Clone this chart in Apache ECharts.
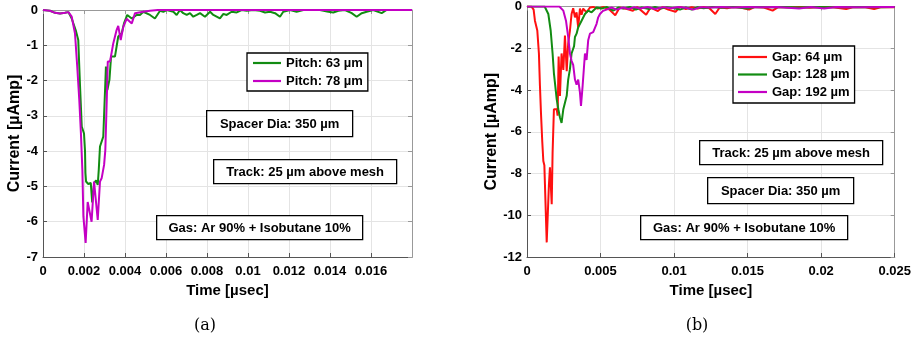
<!DOCTYPE html>
<html><head><meta charset="utf-8">
<script src="https://cdn.jsdelivr.net/npm/echarts@6/dist/echarts.min.js"></script>
<style>html,body{margin:0;padding:0;background:#fff}#c{width:914px;height:345px}</style>
</head><body><div id="c"></div>
<script>
// ---- data (time in µsec, current in µAmp) ----
const leftXTicks = [0, 0.002, 0.004, 0.006, 0.008, 0.01, 0.012, 0.014, 0.016];
const rightXTicks = [0, 0.005, 0.01, 0.015, 0.02, 0.025];
const leftNames = ['Pitch: 63 µm', 'Pitch: 78 µm'];
const rightNames = ['Gap: 64 µm', 'Gap: 128 µm', 'Gap: 192 µm'];

const pitch63 = [
 [0,0],[0.00034,-0.02],[0.00059,-0.08],[0.00083,-0.1],[0.00107,-0.08],[0.00124,-0.06],[0.0014,-0.24],
 [0.00161,-0.6],[0.00172,-0.85],[0.0018,-2.07],[0.00189,-3.3],[0.002,-3.5],[0.00205,-4.0],[0.00207,-4.62],
 [0.0021,-4.86],[0.00221,-4.93],[0.00233,-4.9],[0.0024,-5.45],[0.0025,-4.9],[0.00259,-4.83],[0.00267,-4.96],
 [0.00272,-4.53],[0.00278,-3.87],[0.00294,-3.59],[0.00304,-2.07],[0.00307,-1.6],[0.00314,-2.27],[0.00324,-1.98],
 [0.00332,-1.32],[0.00351,-1.32],[0.00367,-0.75],[0.00384,-0.66],[0.00395,-0.38],[0.00411,-0.14],[0.00433,-0.24],
 [0.00457,-0.14],[0.00473,-0.14],[0.00489,-0.05],[0.00522,-0.14],[0.00546,-0.24],[0.00571,-0.02],
 [0.00587,-0.05],[0.00603,0],[0.00636,-0.05],[0.00652,-0.14],[0.00668,0],[0.00684,-0.09],[0.00701,-0.14],
 [0.00717,-0.09],[0.00733,-0.19],[0.0075,-0.14],[0.00766,-0.09],[0.0079,-0.19],[0.00815,-0.05],[0.00831,-0.14],
 [0.00863,-0.24],[0.0088,-0.11],[0.00896,-0.14],[0.0092,-0.05],[0.00945,-0.07],[0.00969,0],[0.00994,-0.02],
 [0.01026,0],[0.01059,-0.02],[0.01083,-0.07],[0.01107,-0.05],[0.01132,-0.09],[0.01156,-0.19],[0.01172,-0.05],
 [0.01205,0],[0.01237,-0.05],[0.0127,0],[0.01311,0],[0.01351,0],[0.01392,-0.05],[0.01416,-0.07],[0.01441,-0.02],
 [0.01473,0],[0.01506,-0.09],[0.0153,-0.19],[0.01555,-0.09],[0.01579,-0.05],[0.01611,0],[0.01652,-0.09],
 [0.01676,0],[0.018,0]
];
const pitch78 = [
 [0,0],[0.00034,-0.02],[0.00059,-0.08],[0.00083,-0.1],[0.00107,-0.08],[0.00124,-0.06],[0.00132,-0.1],
 [0.0014,-0.19],[0.00156,-0.66],[0.00167,-1.6],[0.00177,-2.55],[0.00185,-3.5],[0.00192,-4.53],[0.00197,-5.85],
 [0.00208,-6.6],[0.00218,-5.44],[0.00237,-6.0],[0.00249,-4.86],[0.00267,-5.95],[0.00278,-4.86],[0.00286,-4.77],
 [0.00298,-4.39],[0.00304,-3.97],[0.00311,-2.55],[0.00316,-1.46],[0.00327,-1.46],[0.00343,-0.94],[0.00359,-0.57],
 [0.00367,-0.45],[0.00379,-0.85],[0.00392,-0.47],[0.00408,-0.25],[0.00433,-0.38],[0.00449,-0.09],[0.00489,-0.05],
 [0.00522,-0.02],[0.0056,0],[0.018,0]
];
const gap64 = [
 [0,0],[0.0003,0],[0.00045,-0.15],[0.00054,-0.68],[0.0007,-1.15],[0.00081,-2.25],[0.00088,-3.8],[0.00095,-5.1],
 [0.00104,-6.5],[0.00111,-7.4],[0.00118,-7.6],[0.00134,-11.3],[0.00149,-8.54],[0.00156,-7.7],[0.00168,-9.47],
 [0.00174,-7.0],[0.00183,-4.92],[0.00202,-4.92],[0.00208,-5.23],[0.00215,-2.4],[0.00224,-4.28],[0.00235,-2.25],
 [0.00247,-3.04],[0.00258,-1.39],[0.0027,-3.1],[0.0028,-1.78],[0.00292,-1.15],[0.00303,-0.36],[0.00314,-0.08],
 [0.00326,-0.52],[0.00337,-0.28],[0.00348,-1.0],[0.0036,-0.1],[0.00371,-0.4],[0.00382,-0.1],[0.00405,-0.28],
 [0.00428,-0.05],[0.0045,-0.02],[0.0048,-0.1],[0.0052,-0.02],[0.0056,-0.15],[0.006,-0.42],[0.0063,-0.05],
 [0.0068,-0.12],[0.0072,-0.2],[0.0075,-0.03],[0.0081,-0.4],[0.0084,-0.05],[0.0089,-0.22],[0.0092,-0.03],
 [0.0096,-0.15],[0.0101,-0.25],[0.0104,-0.02],[0.0108,-0.12],[0.0112,-0.03],[0.0116,-0.1],[0.012,-0.02],
 [0.0124,-0.08],[0.0128,-0.36],[0.0131,-0.05],[0.0136,-0.08],[0.014,-0.02],[0.0145,-0.05],[0.0151,-0.15],
 [0.0155,-0.02],[0.0161,-0.05],[0.0167,-0.2],[0.0171,-0.02],[0.0178,-0.05],[0.0185,-0.02],[0.0192,-0.06],
 [0.02,-0.02],[0.0208,-0.04],[0.0217,-0.12],[0.0222,-0.02],[0.023,-0.04],[0.0236,-0.12],[0.0241,-0.02],[0.025,-0.03]
];
const gap128 = [
 [0,0],[0.0012,0],[0.00129,-0.05],[0.00145,-0.36],[0.00161,-1.15],[0.00174,-2.25],[0.00183,-3.2],[0.0019,-3.66],
 [0.00202,-4.45],[0.00213,-4.92],[0.00224,-5.32],[0.00235,-5.58],[0.00247,-4.92],[0.00258,-4.92],[0.0027,-4.28],
 [0.0028,-3.5],[0.00292,-3.0],[0.00303,-2.25],[0.00314,-2.3],[0.0032,-1.9],[0.00326,-1.46],[0.00337,-1.3],
 [0.00348,-1.0],[0.00371,-0.68],[0.00394,-0.36],[0.00416,-0.2],[0.00439,-0.28],[0.00473,-0.05],[0.00507,-0.1],
 [0.00541,-0.02],[0.00586,-0.2],[0.0062,-0.05],[0.00654,-0.1],[0.007,-0.02],[0.0074,-0.15],[0.0078,-0.05],
 [0.0083,-0.12],[0.0087,-0.02],[0.0091,-0.1],[0.0095,-0.03],[0.01,-0.08],[0.0104,-0.15],[0.0108,-0.05],
 [0.0112,-0.15],[0.0116,-0.03],[0.012,-0.08],[0.0126,-0.02],[0.0132,-0.06],[0.014,-0.02],[0.015,-0.1],
 [0.0155,-0.02],[0.0165,-0.04],[0.0175,-0.02],[0.0185,-0.05],[0.0195,-0.02],[0.021,-0.04],[0.0225,-0.02],
 [0.024,-0.04],[0.025,-0.02]
];
const gap192 = [
 [0,0],[0.0022,0],[0.00247,-0.2],[0.00265,-0.68],[0.0028,-1.46],[0.00292,-2.25],[0.00303,-2.6],[0.00314,-2.8],
 [0.00326,-3.5],[0.00337,-3.74],[0.00348,-3.5],[0.0036,-4.13],[0.00367,-4.76],[0.00378,-3.82],[0.00394,-2.25],
 [0.00405,-2.56],[0.00416,-1.62],[0.00428,-1.3],[0.00439,-1.35],[0.0045,-1.23],[0.00462,-1.3],[0.00473,-0.83],
 [0.00484,-0.52],[0.00496,-0.36],[0.00518,-0.2],[0.00541,-0.15],[0.00575,-0.05],[0.00609,-0.15],[0.00654,-0.05],
 [0.0069,-0.12],[0.0073,-0.03],[0.0077,-0.1],[0.0082,-0.02],[0.0087,-0.12],[0.0093,-0.03],[0.0098,-0.08],
 [0.0103,-0.02],[0.0108,-0.06],[0.0113,-0.15],[0.0118,-0.03],[0.0125,-0.05],[0.0132,-0.02],[0.014,-0.05],
 [0.015,-0.02],[0.016,-0.04],[0.017,-0.02],[0.0185,-0.1],[0.0193,-0.02],[0.0202,-0.1],[0.021,-0.02],
 [0.0225,-0.04],[0.024,-0.02],[0.025,-0.02]
];

// ---- chart ----
const FONT = '"Liberation Sans", Arial, sans-serif';
const GREEN = '#128c12', MAG = '#c400c4', RED = '#ff1010';
const lbl = {fontFamily: FONT, fontWeight: 'bold', fontSize: 13, color: '#000'};
const fmt = v => String(+(+v).toFixed(4));

function mainX(gi, max, interval, gap) {
  return {type:'value', gridIndex:gi, min:0, max:max, interval:interval, position:'bottom',
    name:'Time [µsec]', nameLocation:'middle', nameGap:gap,
    nameTextStyle:{fontFamily:FONT, fontWeight:'bold', fontSize:15, color:'#000'},
    axisLine:{show:true, onZero:false, lineStyle:{color:'#555', width:1}},
    axisTick:{show:true, inside:true, length:4, lineStyle:{color:'#555'}},
    axisLabel:Object.assign({margin:8, formatter:fmt, showMaxLabel: max===0.025, showMinLabel:true}, lbl),
    splitLine:{show:true, lineStyle:{color:'#e4e4e4', width:1}}};
}
function mainY(gi, min, interval, gap) {
  return {type:'value', gridIndex:gi, min:min, max:0, interval:interval, position:'left',
    name:'Current [µAmp]', nameLocation:'middle', nameGap:gap, nameRotate:90,
    nameTextStyle:{fontFamily:FONT, fontWeight:'bold', fontSize:16, color:'#000'},
    axisLine:{show:true, onZero:false, lineStyle:{color:'#555', width:1}},
    axisTick:{show:true, inside:true, length:4, lineStyle:{color:'#555'}},
    axisLabel:Object.assign({margin:5}, lbl),
    splitLine:{show:true, lineStyle:{color:'#e4e4e4', width:1}}};
}
function sideX(gi, max, interval) {
  return {type:'value', gridIndex:gi, min:0, max:max, interval:interval, position:'top',
    axisLine:{show:true, onZero:false, lineStyle:{color:'#999', width:1}},
    axisTick:{show:true, inside:true, length:4, lineStyle:{color:'#999'}},
    axisLabel:{show:false}, splitLine:{show:false}};
}
function sideY(gi, min, interval) {
  return {type:'value', gridIndex:gi, min:min, max:0, interval:interval, position:'right',
    axisLine:{show:true, onZero:false, lineStyle:{color:'#999', width:1}},
    axisTick:{show:true, inside:true, length:4, lineStyle:{color:'#999'}},
    axisLabel:{show:false}, splitLine:{show:false}};
}
function box(x, y, w, h, text) {
  return {type:'group', left:x, top:y, z:100, children:[
    {type:'rect', z:100, shape:{x:0, y:0, width:w, height:h}, style:{fill:'#fff', stroke:'#000', lineWidth:1.3}},
    {type:'text', z:101, x:w/2, y:h/2+0.5, style:{text:text, font:'bold 13px ' + FONT, fill:'#000', textAlign:'center', textVerticalAlign:'middle'}}
  ]};
}
function line(name, data, color, xi, yi) {
  return {type:'line', name:name, data:data, xAxisIndex:xi, yAxisIndex:yi, symbol:'none', showSymbol:false,
    lineStyle:{color:color, width:2}, itemStyle:{color:color}, animation:false, clip:true};
}
function legendBox(names, left, top, gap, iw, pad) {
  return {data:names.map(n => ({name:n, icon:'rect'})), orient:'vertical', left:left, top:top, padding:pad,
    itemGap:gap, itemWidth:iw, itemHeight:2.2, backgroundColor:'#fff', borderColor:'#000', borderWidth:1.3,
    borderRadius:0, selectedMode:false, z:50,
    textStyle:{fontFamily:FONT, fontWeight:'bold', fontSize:13, color:'#000', lineHeight:14}};
}

const chart = echarts.init(document.getElementById('c'), null, {renderer:'canvas'});
chart.setOption({
  animation:false,
  backgroundColor:'#fff',
  grid:[
    {left:43, top:10, width:369, height:247, containLabel:false},
    {left:527, top:2, width:368, height:255, containLabel:false}
  ],
  xAxis:[ mainX(0, 0.018, 0.002, 22), mainX(1, 0.025, 0.005, 22), sideX(0, 0.018, 0.002), sideX(1, 0.025, 0.005) ],
  yAxis:[ mainY(0, -7, 1, 18), mainY(1, -12, 2, 25), sideY(0, -7, 1), sideY(1, -12, 2) ],
  legend:[
    legendBox(leftNames, 247, 53, 4, 28, [3,5,3,6]),
    legendBox(rightNames, 733, 46, 3.5, 29, [4,5,4,5])
  ],
  series:[
    line(leftNames[0], pitch63, GREEN, 0, 0),
    line(leftNames[1], pitch78, MAG, 0, 0),
    line(rightNames[0], gap64, RED, 1, 1),
    line(rightNames[1], gap128, GREEN, 1, 1),
    line(rightNames[2], gap192, MAG, 1, 1)
  ],
  graphic:[
    box(206, 110, 146, 26, 'Spacer Dia: 350 µm'),
    box(213, 159, 183, 24, 'Track: 25 µm above mesh'),
    box(156, 215, 206, 24, 'Gas: Ar 90% + Isobutane 10%'),
    box(699, 140, 183, 24, 'Track: 25 µm above mesh'),
    box(707, 177, 146, 26, 'Spacer Dia: 350 µm'),
    box(640, 215, 207, 24, 'Gas: Ar 90% + Isobutane 10%'),
    {type:'text', x:205, y:326, style:{text:'(a)', font:'16px "DejaVu Serif", serif', fill:'#000', textAlign:'center', textVerticalAlign:'middle'}},
    {type:'text', x:697, y:326, style:{text:'(b)', font:'16px "DejaVu Serif", serif', fill:'#000', textAlign:'center', textVerticalAlign:'middle'}}
  ]
});
</script></body></html>
